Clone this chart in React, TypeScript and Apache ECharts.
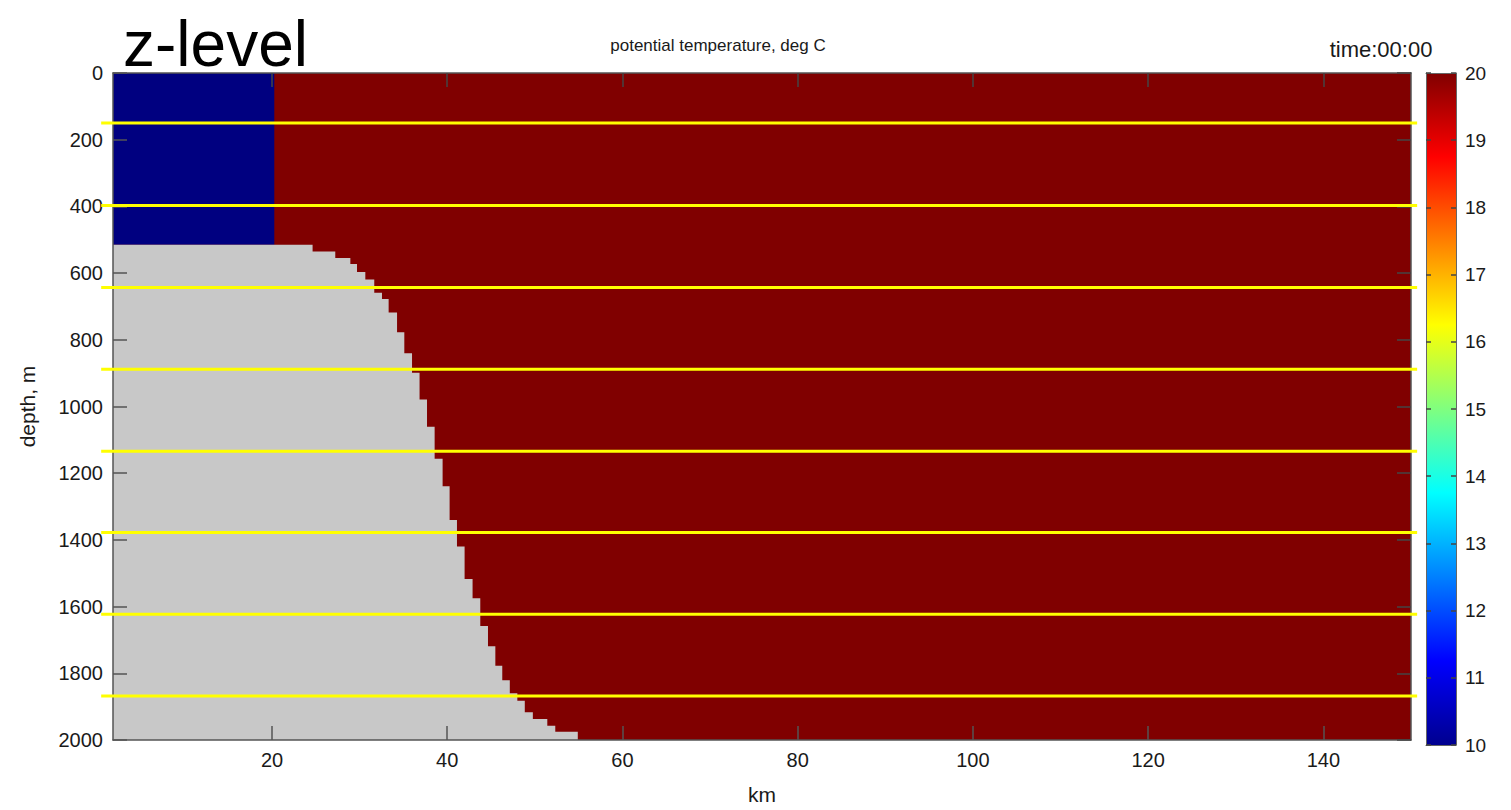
import React, { useEffect, useRef } from "react";
import * as echarts from "echarts";

// ---- data ----
const xRangeKm = [1.85, 150];
const depthRange = [0, 2000];
const xTickKm = [20, 40, 60, 80, 100, 120, 140];
const colorbarRange = [10, 20];

const warmTemp = 20; // background water
const coldTemp = 10; // cold block
const coldBlockKm = [1.85, 20.26];
const coldBlockDepth = [0, 515];

// step topography: column edges (km) and top depth (m) of the bottom in each column
const shelfEdgeKm = [
  1.85, 24.63, 27.22, 28.94, 29.7, 30.65, 31.67, 32.55, 33.31, 34.27, 35.1, 35.98,
  36.84, 37.69, 38.56, 39.47, 40.27, 41.11, 41.98, 42.89, 43.77, 44.65, 45.49, 46.28,
  47.14, 48.0, 48.85, 49.77, 51.42, 52.33, 54.9,
];
const bottomDepth = [
  515, 535, 555, 573, 597, 619, 659, 678, 718, 777, 840, 899, 979, 1061, 1157, 1239,
  1340, 1420, 1517, 1575, 1658, 1719, 1777, 1821, 1860, 1882, 1917, 1937, 1957, 1975,
];

// z-level depths (yellow lines)
const zLevels = [150, 397, 643, 888, 1134, 1378, 1623, 1868];
const zLineKm = [0.5, 150.7];

const FONT = "'Liberation Sans', Arial, sans-serif";

function jet(t: number): string {
  const c = (v: number) => Math.round(255 * Math.max(0, Math.min(1, v)));
  const r = 1.5 - Math.abs(4 * t - 3);
  const g = 1.5 - Math.abs(4 * t - 2);
  const b = 1.5 - Math.abs(4 * t - 1);
  return `rgb(${c(r)},${c(g)},${c(b)})`;
}
const tempColor = (v: number) =>
  jet((v - colorbarRange[0]) / (colorbarRange[1] - colorbarRange[0]));

export default function App() {
  const ref = useRef<HTMLDivElement>(null);
  useEffect(() => {
    if (!ref.current) return;
    const chart = echarts.init(ref.current, undefined, { renderer: "svg" });

    const rectItem = (fill: string) => (params: any, api: any) => {
      const p0 = api.coord([api.value(0), api.value(2)]);
      const p1 = api.coord([api.value(1), api.value(3)]);
      return {
        type: "rect",
        shape: { x: p0[0], y: p0[1], width: p1[0] - p0[0], height: p1[1] - p0[1] },
        style: { fill },
      };
    };

    const bgData = [[xRangeKm[0], xRangeKm[1], depthRange[0], depthRange[1]]];
    const coldData = [[coldBlockKm[0], coldBlockKm[1], coldBlockDepth[0], coldBlockDepth[1]]];
    const lineData = zLevels.map((d) => [zLineKm[0], zLineKm[1], d]);

    const axisLine = { show: true, onZero: false, lineStyle: { color: "#555", width: 1.5 } };
    const cbLine = { show: true, onZero: false, lineStyle: { color: "#666", width: 1 } };
    const labelStyle = { fontFamily: FONT, fontSize: 20, color: "#1a1a1a" };
    const plain = (v: number) => String(v);

    chart.setOption({
      animation: false,
      textStyle: { fontFamily: FONT },
      grid: [
        { left: 113, top: 73, width: 1298, height: 672 },
        { left: 1426, top: 73, width: 30, height: 672 },
      ],
      xAxis: [
        {
          gridIndex: 0,
          type: "value",
          position: "bottom",
          min: xRangeKm[0],
          max: xRangeKm[1],
          z: 10,
          axisLine,
          splitLine: { show: false },
          axisTick: {
            inside: true,
            length: 14,
            customValues: xTickKm,
            lineStyle: { color: "#555", width: 1.5 },
          },
          axisLabel: { ...labelStyle, margin: 10, customValues: xTickKm, formatter: plain },
          name: "km",
          nameLocation: "middle",
          nameGap: 44,
          nameTextStyle: { fontFamily: FONT, fontSize: 21, color: "#1a1a1a" },
        },
        {
          gridIndex: 0,
          type: "value",
          position: "top",
          min: xRangeKm[0],
          max: xRangeKm[1],
          z: 10,
          axisLine,
          splitLine: { show: false },
          axisTick: {
            inside: true,
            length: 14,
            customValues: xTickKm,
            lineStyle: { color: "#444", width: 1.5 },
          },
          axisLabel: { show: false },
        },
        {
          gridIndex: 1,
          type: "value",
          position: "bottom",
          min: 0,
          max: 1,
          z: 10,
          axisLine: cbLine,
          splitLine: { show: false },
          axisTick: { show: false },
          axisLabel: { show: false },
        },
        {
          gridIndex: 1,
          type: "value",
          position: "top",
          min: 0,
          max: 1,
          z: 10,
          axisLine: cbLine,
          splitLine: { show: false },
          axisTick: { show: false },
          axisLabel: { show: false },
        },
      ],
      yAxis: [
        {
          gridIndex: 0,
          type: "value",
          position: "left",
          inverse: true,
          min: depthRange[0],
          max: depthRange[1],
          interval: 200,
          z: 10,
          axisLine,
          splitLine: { show: false },
          axisTick: { inside: true, length: 14, lineStyle: { color: "#555", width: 1.5 } },
          axisLabel: { ...labelStyle, margin: 10, formatter: plain },
          name: "depth, m",
          nameLocation: "middle",
          nameGap: 75,
          nameTextStyle: { fontFamily: FONT, fontSize: 21, color: "#1a1a1a" },
        },
        {
          gridIndex: 0,
          type: "value",
          position: "right",
          inverse: true,
          min: depthRange[0],
          max: depthRange[1],
          interval: 200,
          z: 10,
          axisLine,
          splitLine: { show: false },
          axisTick: { inside: true, length: 14, lineStyle: { color: "#444", width: 1.5 } },
          axisLabel: { show: false },
        },
        {
          gridIndex: 1,
          type: "value",
          position: "left",
          min: colorbarRange[0],
          max: colorbarRange[1],
          interval: 1,
          z: 10,
          axisLine: cbLine,
          splitLine: { show: false },
          axisTick: { inside: true, length: 5, lineStyle: { color: "#444", width: 1.5 } },
          axisLabel: { show: false },
        },
        {
          gridIndex: 1,
          type: "value",
          position: "right",
          min: colorbarRange[0],
          max: colorbarRange[1],
          interval: 1,
          z: 10,
          axisLine: cbLine,
          splitLine: { show: false },
          axisTick: { inside: true, length: 5, lineStyle: { color: "#444", width: 1.5 } },
          axisLabel: { ...labelStyle, fontSize: 19, margin: 9, formatter: plain },
        },
      ],
      series: [
        {
          type: "custom",
          xAxisIndex: 0,
          yAxisIndex: 0,
          encode: { x: [0, 1], y: [2, 3] },
          renderItem: rectItem(tempColor(warmTemp)),
          data: bgData,
          z: 1,
        },
        {
          type: "custom",
          xAxisIndex: 0,
          yAxisIndex: 0,
          encode: { x: [0, 1], y: [2, 3] },
          renderItem: rectItem(tempColor(coldTemp)),
          data: coldData,
          z: 2,
        },
        {
          // land: stepped polygon built from the topography arrays
          type: "custom",
          xAxisIndex: 0,
          yAxisIndex: 0,
          encode: { x: 0, y: 1 },
          renderItem: (params: any, api: any) => {
            const pts: number[][] = [];
            pts.push(api.coord([shelfEdgeKm[0], depthRange[1]]));
            bottomDepth.forEach((d, i) => {
              pts.push(api.coord([shelfEdgeKm[i], d]));
              pts.push(api.coord([shelfEdgeKm[i + 1], d]));
            });
            pts.push(api.coord([shelfEdgeKm[shelfEdgeKm.length - 1], depthRange[1]]));
            return {
              type: "polygon",
              shape: { points: pts },
              style: { fill: "#c8c8c8" },
            };
          },
          data: [[shelfEdgeKm[0], bottomDepth[0]]],
          z: 3,
        },
        {
          type: "custom",
          xAxisIndex: 0,
          yAxisIndex: 0,
          encode: { x: [0, 1], y: 2 },
          clip: false,
          renderItem: (params: any, api: any) => {
            const p0 = api.coord([api.value(0), api.value(2)]);
            const p1 = api.coord([api.value(1), api.value(2)]);
            return {
              type: "line",
              shape: { x1: p0[0], y1: p0[1], x2: p1[0], y2: p1[1] },
              style: { stroke: "#ffff00", lineWidth: 3 },
            };
          },
          data: lineData,
          z: 20,
        },
        {
          type: "custom",
          xAxisIndex: 2,
          yAxisIndex: 3,
          encode: { x: [0, 1], y: [2, 3] },
          renderItem: (params: any, api: any) => {
            const p0 = api.coord([api.value(0), api.value(3)]);
            const p1 = api.coord([api.value(1), api.value(2)]);
            return {
              type: "rect",
              shape: { x: p0[0], y: p0[1], width: p1[0] - p0[0], height: p1[1] - p0[1] },
              style: {
                fill: new echarts.graphic.LinearGradient(0, 0, 0, 1, [
                  { offset: 0, color: "#800000" },
                  { offset: 0.125, color: "#ff0000" },
                  { offset: 0.375, color: "#ffff00" },
                  { offset: 0.625, color: "#00ffff" },
                  { offset: 0.875, color: "#0000ff" },
                  { offset: 1, color: "#00008f" },
                ]),
              },
            };
          },
          data: [[0, 1, colorbarRange[0], colorbarRange[1]]],
          z: 2,
        },
      ],
      graphic: [
        {
          type: "text",
          left: 123,
          top: 12,
          style: { text: "z-level", font: `64px ${FONT}`, fill: "#000" },
        },
        {
          type: "text",
          x: 718,
          y: 45,
          style: {
            text: "potential temperature, deg C",
            font: `17px ${FONT}`,
            fill: "#1a1a1a",
            align: "center",
            verticalAlign: "middle",
          },
        },
        {
          type: "text",
          x: 1381,
          y: 49,
          style: {
            text: "time:00:00",
            font: `22px ${FONT}`,
            fill: "#1a1a1a",
            align: "center",
            verticalAlign: "middle",
          },
        },
      ],
    });
    return () => chart.dispose();
  }, []);
  return (
    <div
      ref={ref}
      style={{ position: "fixed", left: 0, top: 0, width: 1511, height: 810, background: "#fff" }}
    />
  );
}
